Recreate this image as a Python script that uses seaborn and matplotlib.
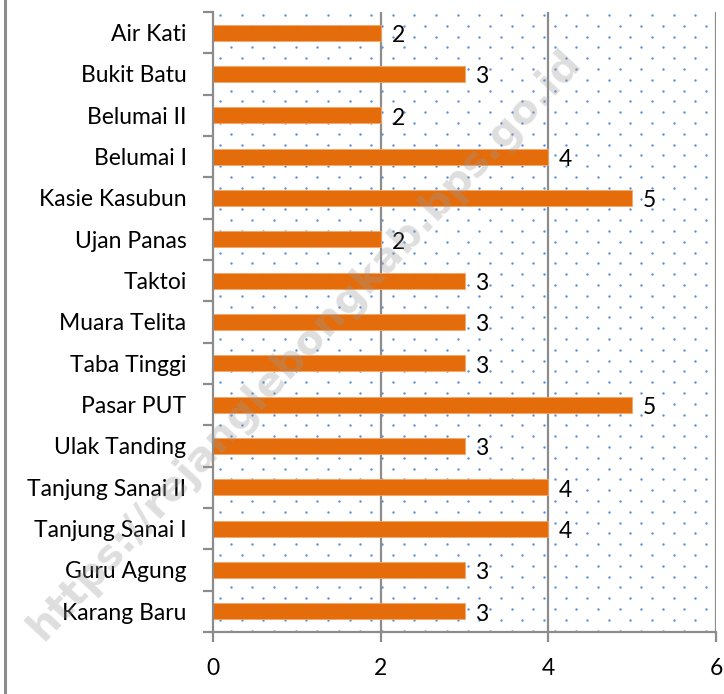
import numpy as np
import pandas as pd
import matplotlib
matplotlib.use("Agg")
import matplotlib.pyplot as plt
import seaborn as sns

categories = ["Air Kati", "Bukit Batu", "Belumai II", "Belumai I", "Kasie Kasubun",
              "Ujan Panas", "Taktoi", "Muara Telita", "Taba Tinggi", "Pasar PUT",
              "Ulak Tanding", "Tanjung Sanai II", "Tanjung Sanai I", "Guru Agung",
              "Karang Baru"]
values = [2, 3, 2, 4, 5, 2, 3, 3, 3, 5, 3, 4, 4, 3, 3]
x_ticks = [0, 2, 4, 6]
watermark = "https://rejanglebongkab.bps.go.id"

df = pd.DataFrame({"desa": categories, "jumlah": values})

sns.set_theme(style="white")
FONT = ["Lato", "DejaVu Sans"]
plt.rcParams["font.family"] = FONT

W, H = 724, 694
fig = plt.figure(figsize=(W / 100, H / 100), dpi=100)
ax = fig.add_axes([213 / W, 1 - 632 / H, (716 - 213) / W, (632 - 12) / H])

# dotted background pattern (decoration, in axes pixel space)
ax_w, ax_h = 716 - 213, 632 - 12
dx, dy = 21.6, 10.8
xs, ys = [], []
row = 0
y = 3.0
while y < ax_h:
    x0 = 7.0 if row % 2 == 0 else 7.0 + dx / 2
    x = x0
    while x < ax_w:
        xs.append(x / ax_w)
        ys.append(1 - y / ax_h)
        x += dx
    y += dy
    row += 1
ax.scatter(xs, ys, s=3.0, color="#5B8FD8", transform=ax.transAxes, zorder=0.5,
           linewidths=0, clip_on=True)

sns.barplot(data=df, x="jumlah", y="desa", orient="h", color="#E46C0A",
            width=0.39, ax=ax, zorder=2, saturation=1, edgecolor="#F4A66A",
            linewidth=0.6)

ax.set_xlim(0, 6)
ax.set_ylim(len(categories) - 0.5, -0.5)
ax.set_xticks(x_ticks)
ax.set_xticklabels([str(t) for t in x_ticks], fontsize=16.5, color="black")
ax.set_yticks(range(len(categories)))
ax.set_yticklabels(categories, fontsize=16.5, color="black")
ax.set_yticks(np.arange(-0.5, len(categories), 1), minor=True)
ax.tick_params(axis="y", which="major", length=0, pad=19)
ax.tick_params(axis="y", which="minor", length=7, width=1.6, color="#8C8C8C", direction="out", left=True)
ax.tick_params(axis="x", which="major", length=7, width=1.6, color="#8C8C8C", direction="out", bottom=True, pad=12)
ax.set_xlabel("")
ax.set_ylabel("")

for xv in x_ticks[1:]:
    ax.axvline(xv, color="#8C8C8C", lw=1.6, zorder=1)

for s in ["top", "right"]:
    ax.spines[s].set_visible(False)
for s in ["left", "bottom"]:
    ax.spines[s].set_color("#8C8C8C")
    ax.spines[s].set_linewidth(1.6)

for i, v in enumerate(values):
    ax.text(v + 0.13, i + 0.07, str(v), va="center", ha="left", fontsize=16.5,
            color="black", zorder=4)

# left border of the figure
fig.add_artist(plt.Line2D([5 / W, 5 / W], [0, 1], color="#8C8C8C", lw=2.2,
                          transform=fig.transFigure))

# watermark
fig.text(305 / W, 1 - 345 / H, watermark, rotation=47, ha="center", va="center",
         fontsize=29.5, fontweight="bold", color="#9A9A9A", alpha=0.32,
         family=["DejaVu Sans"], zorder=10)

fig.savefig("out.png", dpi=100, facecolor="white")
